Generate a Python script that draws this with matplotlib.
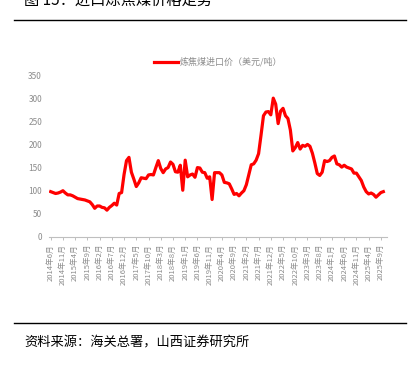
import matplotlib
matplotlib.use("Agg")
import matplotlib.pyplot as plt

plt.rcParams['font.family'] = ['Noto Sans CJK SC', 'DejaVu Sans']

# monthly import coking coal price, 2014-06 .. 2025-10 (USD/t)
start_year, start_month = 2014, 6
price = [98, 96, 94, 95, 97, 100, 95, 91, 91, 89, 86, 83, 82, 81, 80, 78, 76, 70, 62, 67,
         67, 64, 63, 58, 64, 68, 73, 69, 94, 96, 135, 165, 172, 140, 125, 109, 117, 128, 127, 126,
         134, 135, 134, 150, 165, 148, 139, 147, 150, 162, 157, 141, 140, 155, 101, 166, 130, 134, 136, 129,
         150, 149, 140, 139, 127, 130, 81, 139, 139, 139, 134, 118, 117, 115, 104, 92, 94, 89, 95, 100,
         113, 135, 156, 158, 166, 180, 220, 262, 270, 271, 264, 300, 287, 245, 272, 278, 262, 256, 231, 186,
         193, 204, 190, 198, 196, 200, 196, 181, 160, 137, 133, 140, 165, 163, 165, 172, 175, 158, 156, 151,
         155, 151, 149, 147, 138, 138, 130, 122, 108, 98, 93, 95, 92, 86, 91, 96, 98]
yticks = [0, 50, 100, 150, 200, 250, 300, 350]
tick_step = 5
series_name = "炼焦煤进口价（美元/吨）"
title = "图 15：进口炼焦煤价格走势"
source = "资料来源：海关总署，山西证券研究所"

months = list(range(len(price)))
tick_pos = list(range(0, len(price), tick_step))
tick_labels = []
for m in tick_pos:
    y = start_year + (start_month - 1 + m) // 12
    mo = (start_month - 1 + m) % 12 + 1
    tick_labels.append(f"{y}年{mo}月")

fig = plt.figure(figsize=(4.15, 3.65), dpi=100)
ax = fig.add_axes([0.118, 0.3507, 0.8145, 0.4438])

ax.plot(months, price, color="#FF0000", lw=2.3, label=series_name, solid_joinstyle="round")
ax.set_xlim(-0.7, 137.5)
ax.set_ylim(0, 350)
ax.set_yticks(yticks)
ax.set_xticks(tick_pos)
ax.set_xticklabels(tick_labels, rotation=90, fontsize=5.5, color="#8c8c8c")
ax.tick_params(axis="y", length=0, labelsize=6, labelcolor="#8c8c8c", pad=5)
ax.tick_params(axis="x", length=2.5, color="#bfbfbf", width=0.7, pad=2.5)
for s in ["left", "right", "top"]:
    ax.spines[s].set_visible(False)
ax.spines["bottom"].set_color("#bfbfbf")
ax.spines["bottom"].set_linewidth(0.8)

leg = ax.legend(loc="center", bbox_to_anchor=(0.5, 1.08), frameon=False,
                fontsize=6.5, handlelength=2.6, handletextpad=0.2)
for t in leg.get_texts():
    t.set_color("#8c8c8c")

fig.text(0.058, 1.0, title, fontsize=11, ha="left", va="center", color="black")
fig.add_artist(plt.Line2D([0.034, 0.978], [0.944, 0.944], color="black", lw=1.0))
fig.add_artist(plt.Line2D([0.034, 0.978], [0.115, 0.115], color="black", lw=1.0))
fig.text(0.058, 0.06, source, fontsize=9.5, ha="left", va="center", color="black")

fig.savefig("out.png", dpi=100)
